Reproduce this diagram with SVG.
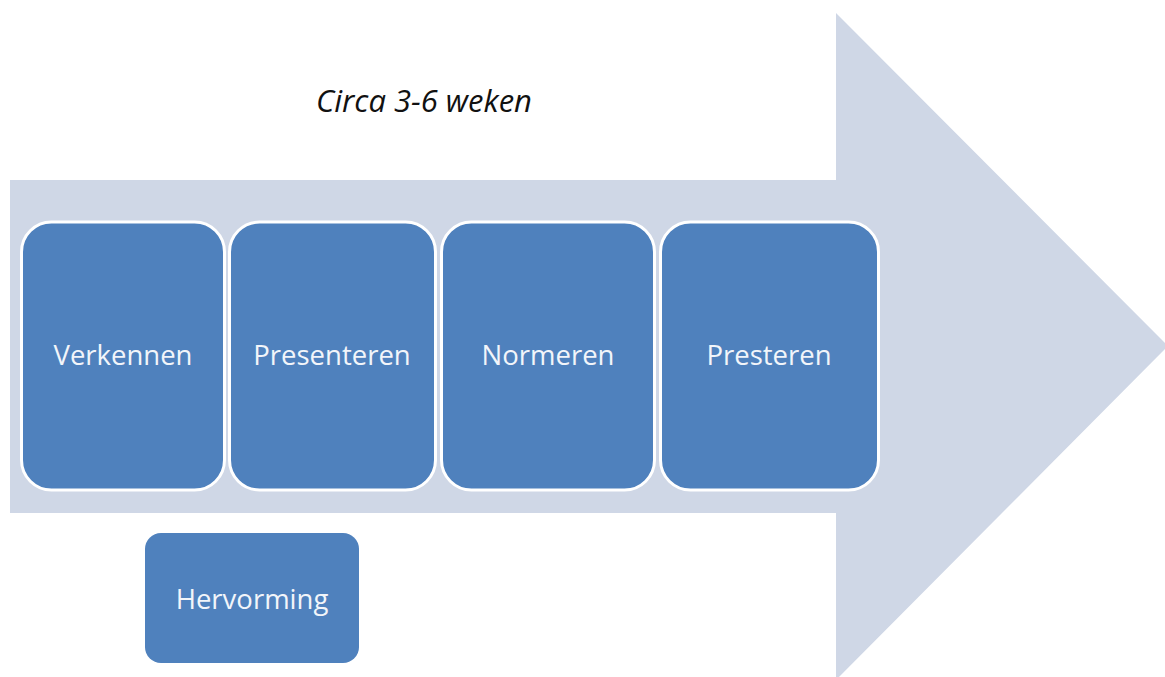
<svg xmlns="http://www.w3.org/2000/svg" width="1165" height="677" viewBox="0 0 1165 677">
<style>
.box{fill:#4f81bd;stroke:#ffffff;stroke-width:3}
.lbl{font-family:"Open Sans","Liberation Sans",sans-serif;font-size:27.5px;fill:#f2f5fa;text-anchor:middle;dominant-baseline:central}
.title{font-family:"Open Sans","Liberation Sans",sans-serif;font-size:31px;font-style:italic;fill:#111111;text-anchor:middle}
</style>
<rect width="1165" height="677" fill="#ffffff"/>
<g id="arrow">
<polygon points="10,180 836,180 836,13 1168,346 836,680 836,513 10,513" fill="#cfd7e6"/>
</g>
<g id="title"><text class="title" x="424" y="112">Circa 3-6 weken</text></g>
<g id="connectors"></g>
<g id="verkennen"><rect class="box" x="21.5" y="222" width="203" height="268" rx="30"/><text class="lbl" x="123" y="354">Verkennen</text></g>
<g id="presenteren"><rect class="box" x="229.5" y="222" width="206" height="268" rx="30"/><text class="lbl" x="332" y="354">Presenteren</text></g>
<g id="normeren"><rect class="box" x="441.5" y="222" width="213" height="268" rx="30"/><text class="lbl" x="548" y="354">Normeren</text></g>
<g id="presteren"><rect class="box" x="660.5" y="222" width="218" height="268" rx="30"/><text class="lbl" x="769" y="354">Presteren</text></g>
<g id="hervorming"><rect x="145" y="533" width="214" height="130" rx="16" fill="#4f81bd"/><text class="lbl" x="252" y="598">Hervorming</text></g>
</svg>
